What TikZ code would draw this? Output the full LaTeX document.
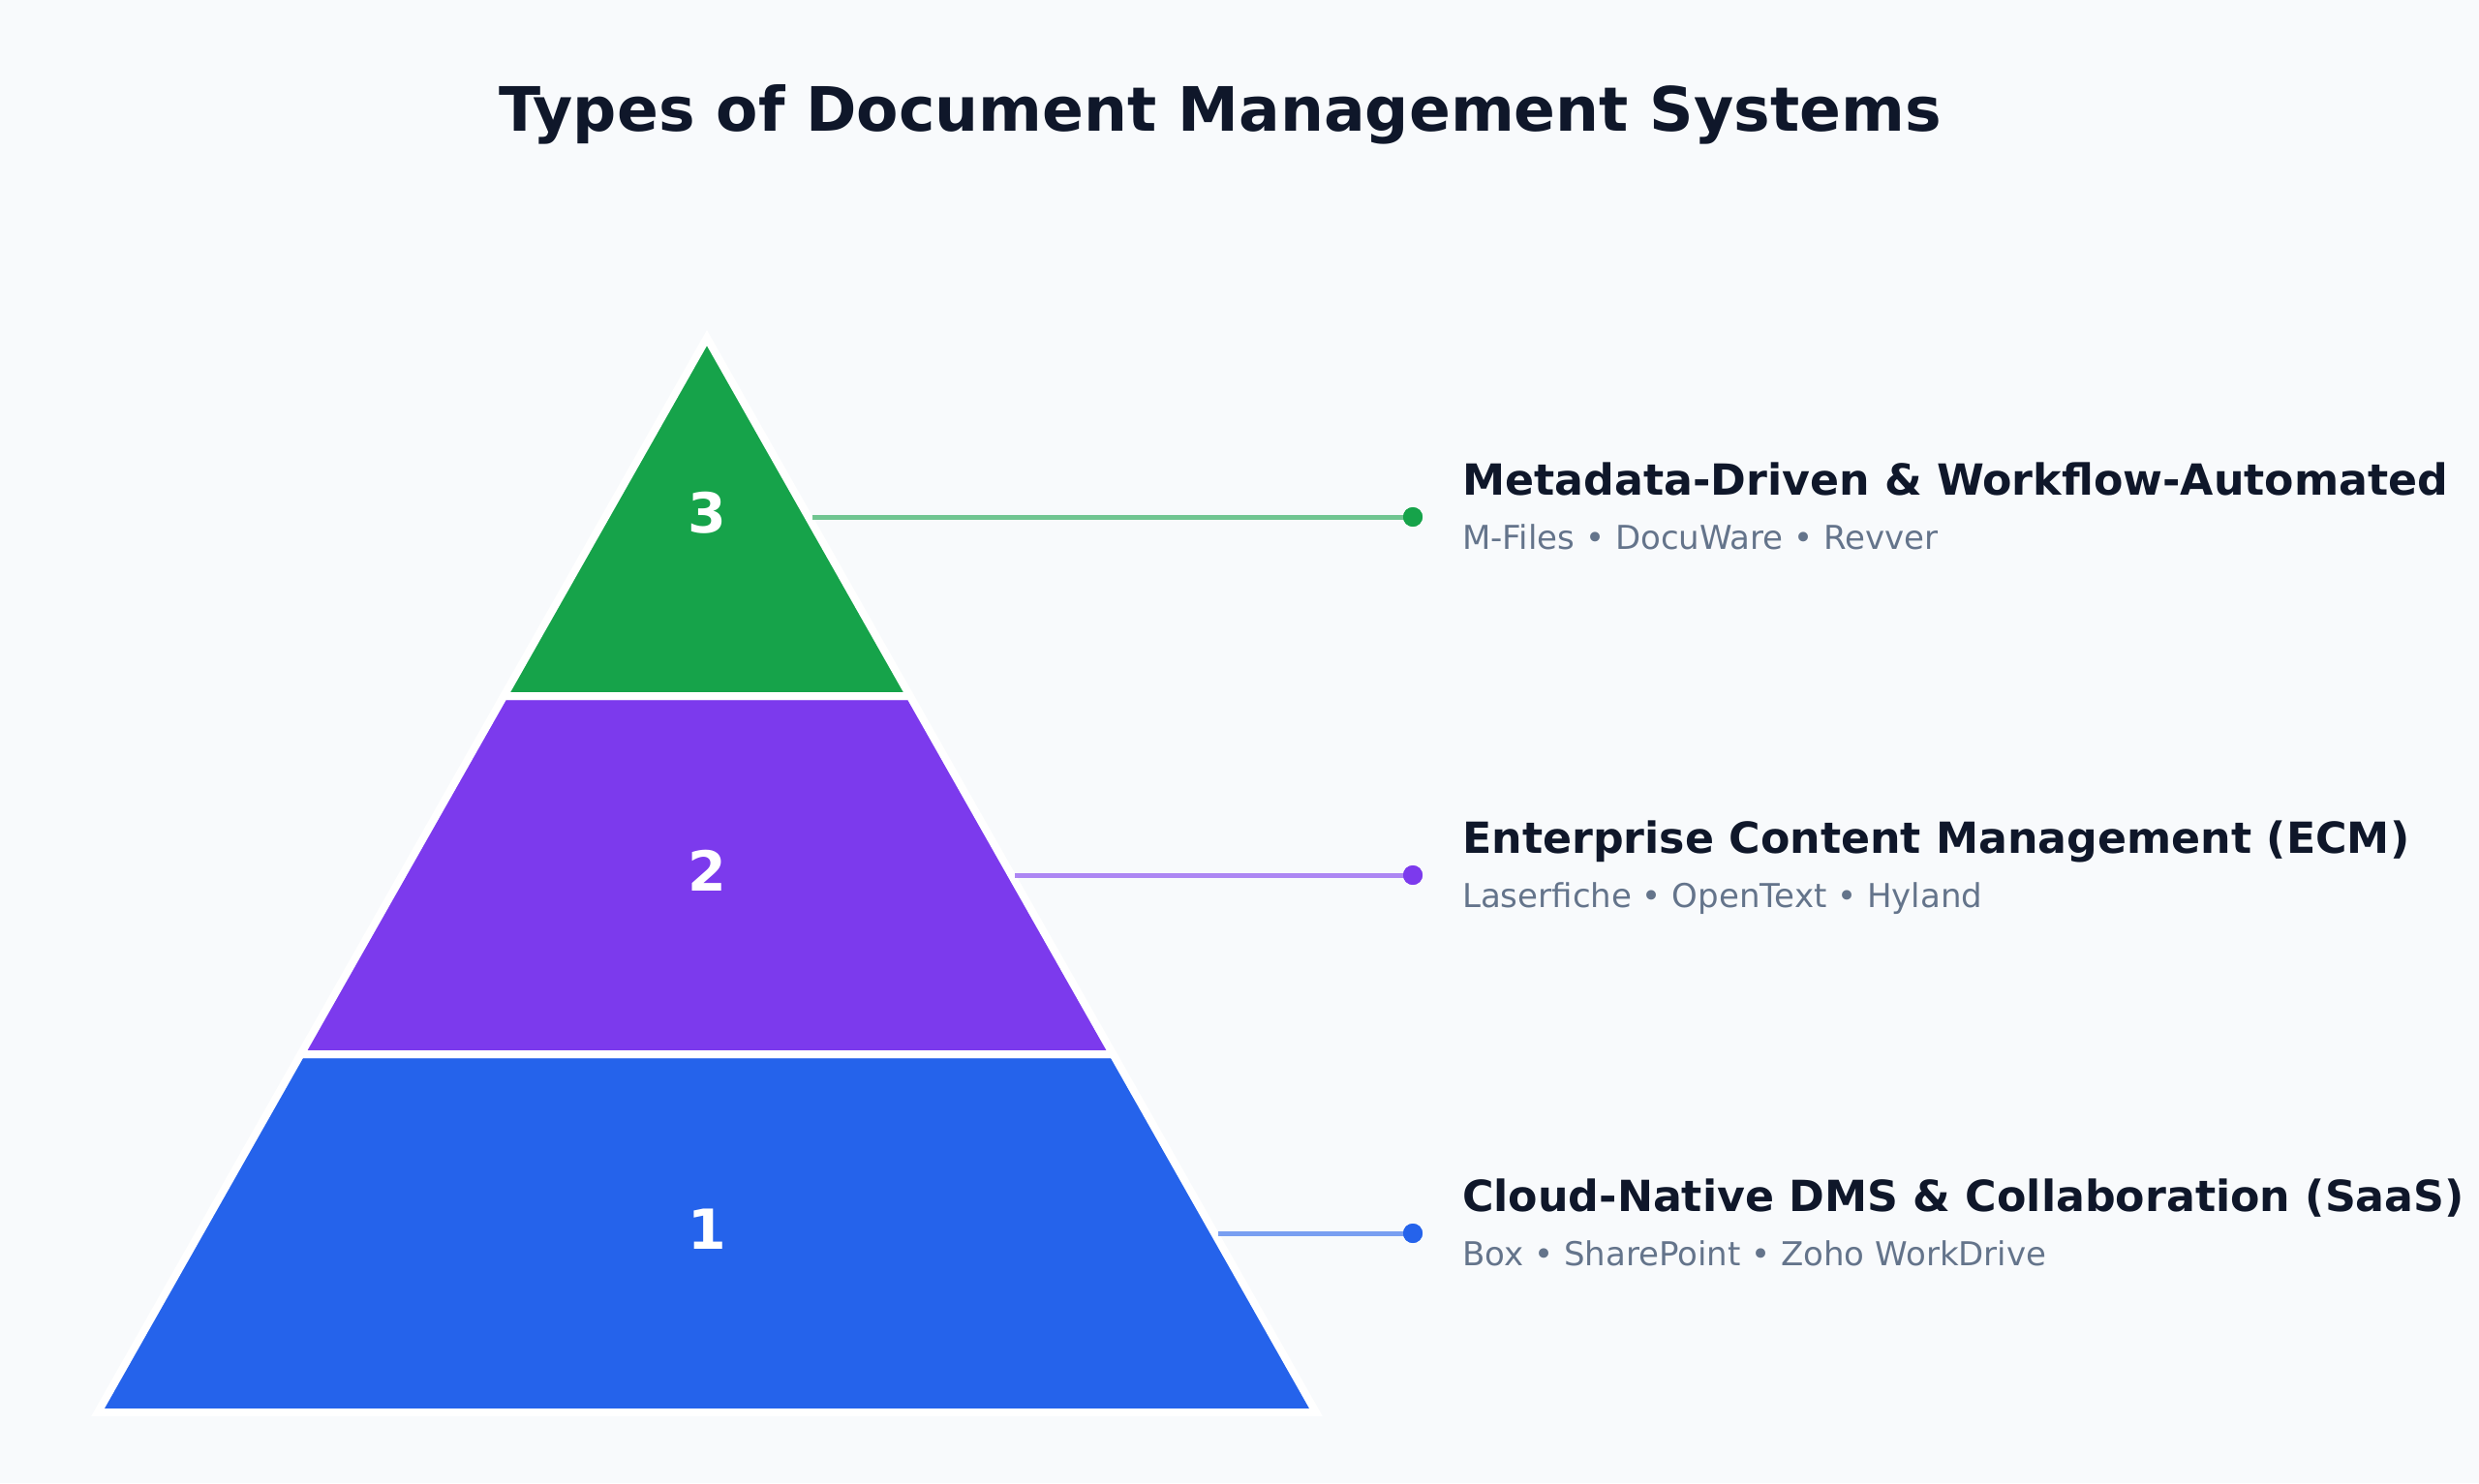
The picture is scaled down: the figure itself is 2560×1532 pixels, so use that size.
\documentclass[tikz,border=0pt]{standalone}
\usepackage{fontspec}
\setmainfont{DejaVu Sans}
\definecolor{bg}{HTML}{F8FAFC}
\definecolor{ink}{HTML}{0F172A}
\definecolor{subink}{HTML}{64748B}
\definecolor{tgreen}{HTML}{16A34A}
\definecolor{tpurple}{HTML}{7C3AED}
\definecolor{tblue}{HTML}{2563EB}
\tikzset{
  tier/.style={draw=white, line width=8pt, line join=miter},
  tiernum/.style={inner sep=0pt, anchor=base, text=white, font=\bfseries\fontsize{57}{68}\selectfont},
  heading/.style={inner sep=0pt, anchor=base west, text=ink, font=\bfseries\fontsize{44.3}{53}\selectfont},
  subtext/.style={inner sep=0pt, anchor=base west, text=subink, font=\fontsize{34}{40}\selectfont},
  leader/.style={line width=5pt, draw opacity=0.6},
  enddot/.style={circle, inner sep=0pt, minimum size=20pt},
}
\begin{document}
\begin{tikzpicture}[x=1pt, y=-1pt]
\fill[bg] (0,0) rectangle (2560,1532);
\useasboundingbox (0,0) rectangle (2560,1532);
% title
\node[inner sep=0pt, anchor=base, text=ink, font=\bfseries\fontsize{63.2}{76}\selectfont] (title) at (1260,135) {Types of Document Management Systems};
% pyramid geometry: apex (730,349), base y 1459
\coordinate (apex) at (730,349);
\coordinate (l1) at (520.3,719);
\coordinate (r1) at (939.7,719);
\coordinate (l2) at (310.6,1089);
\coordinate (r2) at (1149.4,1089);
\coordinate (l3) at (101,1459);
\coordinate (r3) at (1359,1459);
% tiers
\filldraw[tier, fill=tblue] (l2) -- (r2) -- (r3) -- (l3) -- cycle;
\filldraw[tier, fill=tpurple] (l1) -- (r1) -- (r2) -- (l2) -- cycle;
\filldraw[tier, fill=tgreen] (apex) -- (r1) -- (l1) -- cycle;
% numbers
\node[tiernum] (n3) at (730,550) {3};
\node[tiernum] (n2) at (730,920) {2};
\node[tiernum] (n1) at (730,1290) {1};
% leader start points and dots
\coordinate (s3) at (839,534);
\coordinate (s2) at (1048,904);
\coordinate (s1) at (1258,1274);
\node[enddot, fill=tgreen] (d3) at (1459,534) {};
\node[enddot, fill=tpurple] (d2) at (1459,904) {};
\node[enddot, fill=tblue] (d1) at (1459,1274) {};
\draw[leader, tgreen] (s3) -- (d3.center);
\draw[leader, tpurple] (s2) -- (d2.center);
\draw[leader, tblue] (s1) -- (d1.center);
\node[enddot, fill=tgreen] at (d3) {};
\node[enddot, fill=tpurple] at (d2) {};
\node[enddot, fill=tblue] at (d1) {};
% labels
\node[heading] (h3) at (1510,511) {Metadata-Driven \& Workflow-Automated};
\node[subtext] (t3) at (1510,567) {M-Files • DocuWare • Revver};
\node[heading] (h2) at (1510,881) {Enterprise Content Management (ECM)};
\node[subtext] (t2) at (1510,937) {Laserfiche • OpenText • Hyland};
\node[heading] (h1) at (1510,1251) {Cloud-Native DMS \& Collaboration (SaaS)};
\node[subtext] (t1) at (1510,1307) {Box • SharePoint • Zoho WorkDrive};
\end{tikzpicture}
\end{document}
